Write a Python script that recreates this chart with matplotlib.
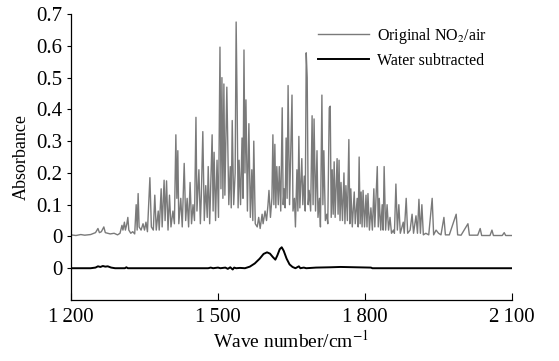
import matplotlib
matplotlib.use("Agg")
import matplotlib.pyplot as plt

# original NO2/air spectrum, (wave number, absorbance)
orig_wn = [
    1200, 1210, 1220, 1228, 1240, 1250, 1255, 1258, 1262, 1267, 1270, 1280, 1288, 1295,
    1300, 1304, 1306, 1309, 1311, 1314, 1316, 1318, 1322, 1326, 1330, 1333, 1335, 1337,
    1339, 1343, 1347, 1350, 1353, 1356, 1361, 1364, 1368, 1371, 1374, 1378, 1380, 1384,
    1386, 1390, 1392, 1395, 1398, 1401, 1404, 1408, 1411, 1414, 1416, 1418, 1420, 1424,
    1427, 1431, 1434, 1437, 1440, 1443, 1446, 1449, 1452, 1455, 1457, 1461, 1464, 1466,
    1469, 1472, 1475, 1478, 1480, 1483, 1488, 1490, 1492, 1495, 1498, 1501, 1504, 1506,
    1508, 1510, 1512, 1514, 1518, 1520, 1522, 1525, 1527, 1529, 1532, 1535, 1537, 1539,
    1541, 1543, 1546, 1549, 1551, 1553, 1555, 1557, 1560, 1563, 1566, 1569, 1571, 1573,
    1576, 1580, 1583, 1586, 1590, 1592, 1596, 1599, 1602, 1604, 1607, 1610, 1612, 1614,
    1616, 1618, 1620, 1623, 1625, 1628, 1631, 1633, 1635, 1637, 1639, 1641, 1643, 1646,
    1651, 1653, 1656, 1658, 1661, 1663, 1665, 1667, 1671, 1673, 1676, 1678, 1680, 1682,
    1684, 1686, 1689, 1692, 1694, 1696, 1699, 1702, 1704, 1707, 1709, 1712, 1714, 1716,
    1719, 1722, 1724, 1727, 1729, 1731, 1733, 1735, 1737, 1739, 1743, 1745, 1747, 1749,
    1751, 1754, 1757, 1759, 1761, 1764, 1767, 1769, 1771, 1774, 1778, 1780, 1784, 1786,
    1788, 1790, 1792, 1794, 1796, 1799, 1802, 1804, 1806, 1809, 1812, 1815, 1818, 1820,
    1825, 1827, 1829, 1832, 1835, 1837, 1839, 1842, 1845, 1848, 1851, 1854, 1858, 1860,
    1863, 1866, 1869, 1872, 1878, 1880, 1884, 1887, 1892, 1896, 1899, 1904, 1907, 1910,
    1913, 1916, 1919, 1924, 1930, 1937, 1940, 1945, 1950, 1955, 1961, 1964, 1972, 1986,
    1989, 1996, 2010, 2013, 2030, 2035, 2038, 2055, 2059, 2062, 2080, 2084, 2087, 2100,
]
orig_abs = [
    0.005, 0.003, 0.006, 0.004, 0.006, 0.012, 0.025, 0.012, 0.015, 0.030, 0.012, 0.008, 0.010, 0.005,
    0.010, 0.035, 0.020, 0.045, 0.020, 0.040, 0.060, 0.020, 0.010, 0.015, 0.008, 0.100, 0.020, 0.135,
    0.030, 0.020, 0.040, 0.020, 0.045, 0.015, 0.185, 0.030, 0.020, 0.130, 0.020, 0.080, 0.020, 0.150,
    0.030, 0.177, 0.050, 0.175, 0.020, 0.130, 0.030, 0.080, 0.040, 0.320, 0.120, 0.270, 0.040, 0.120,
    0.030, 0.230, 0.050, 0.120, 0.030, 0.170, 0.040, 0.100, 0.050, 0.375, 0.080, 0.210, 0.040, 0.130,
    0.330, 0.050, 0.160, 0.060, 0.220, 0.040, 0.320, 0.080, 0.265, 0.050, 0.240, 0.060, 0.596, 0.150,
    0.500, 0.120, 0.480, 0.130, 0.470, 0.290, 0.100, 0.220, 0.090, 0.365, 0.100, 0.200, 0.675, 0.420,
    0.090, 0.240, 0.100, 0.310, 0.120, 0.587, 0.200, 0.430, 0.080, 0.355, 0.060, 0.210, 0.050, 0.300,
    0.040, 0.030, 0.060, 0.025, 0.070, 0.040, 0.080, 0.050, 0.100, 0.145, 0.060, 0.120, 0.320, 0.100,
    0.290, 0.090, 0.220, 0.100, 0.220, 0.080, 0.405, 0.100, 0.150, 0.090, 0.310, 0.120, 0.475, 0.100,
    0.445, 0.080, 0.120, 0.030, 0.210, 0.080, 0.315, 0.090, 0.245, 0.100, 0.190, 0.080, 0.578, 0.500,
    0.100, 0.145, 0.080, 0.380, 0.100, 0.370, 0.080, 0.270, 0.060, 0.120, 0.030, 0.445, 0.100, 0.270,
    0.050, 0.070, 0.040, 0.405, 0.410, 0.060, 0.210, 0.070, 0.235, 0.060, 0.245, 0.070, 0.240, 0.050,
    0.170, 0.050, 0.200, 0.040, 0.160, 0.050, 0.305, 0.040, 0.150, 0.030, 0.140, 0.040, 0.120, 0.030,
    0.250, 0.040, 0.140, 0.030, 0.145, 0.030, 0.130, 0.030, 0.135, 0.020, 0.090, 0.020, 0.150, 0.030,
    0.220, 0.030, 0.120, 0.020, 0.100, 0.020, 0.220, 0.020, 0.100, 0.020, 0.060, 0.010, 0.020, 0.010,
    0.165, 0.020, 0.100, 0.010, 0.045, 0.010, 0.120, 0.010, 0.020, 0.070, 0.010, 0.065, 0.010, 0.117,
    0.010, 0.100, 0.005, 0.010, 0.005, 0.120, 0.005, 0.020, 0.010, 0.005, 0.060, 0.005, 0.005, 0.070,
    0.005, 0.004, 0.040, 0.004, 0.004, 0.025, 0.003, 0.003, 0.020, 0.003, 0.003, 0.012, 0.003, 0.003,
]

# water-subtracted spectrum (drawn shifted down by 0.1)
water_wn = [
    1200, 1240, 1250, 1255, 1260, 1265, 1270, 1275, 1282, 1290, 1310, 1313, 1316, 1330,
    1480, 1485, 1490, 1500, 1505, 1515, 1520, 1525, 1530, 1533, 1537, 1545, 1555, 1565,
    1575, 1585, 1593, 1600, 1606, 1612, 1617, 1621, 1626, 1630, 1634, 1640, 1646, 1652,
    1658, 1665, 1668, 1675, 1680, 1700, 1730, 1750, 1780, 1812, 1815, 2100,
]
water_abs = [
    0.0, 0.0, 0.002, 0.006, 0.004, 0.007, 0.005, 0.006, 0.002, 0.0, 0.0, 0.003, 0.0, 0.0,
    0.0, 0.002, 0.0, 0.002, 0.0, 0.002, -0.002, 0.003, -0.004, 0.002, 0.0, 0.001, 0.0, 0.005,
    0.015, 0.030, 0.045, 0.050, 0.046, 0.035, 0.027, 0.040, 0.060, 0.066, 0.055, 0.030, 0.012, 0.004,
    0.0, 0.006, 0.0, 0.002, 0.0, 0.002, 0.003, 0.004, 0.003, 0.002, 0.0, 0.0,
]
water_offset = -0.1

xticks = [1200, 1500, 1800, 2100]
xtick_labels = ["1\u2009200", "1\u2009500", "1\u2009800", "2\u2009100"]
yticks = [-0.1, 0, 0.1, 0.2, 0.3, 0.4, 0.5, 0.6, 0.7]
ytick_labels = ["0", "0", "0.1", "0.2", "0.3", "0.4", "0.5", "0.6", "0.7"]

plt.rcParams["font.family"] = ["Liberation Serif", "DejaVu Serif"]
plt.rcParams["mathtext.fontset"] = "stix"

fig = plt.figure(figsize=(5.59, 3.61), dpi=100)
ax = fig.add_axes([0.127, 0.169, 0.789, 0.792])

ax.plot(orig_wn, orig_abs, color="#7a7a7a", lw=1.0, label="Original NO$_2$/air")
ax.plot(water_wn, [v + water_offset for v in water_abs], color="black", lw=1.4,
        label="Water subtracted")

ax.set_xlim(1200, 2100)
ax.set_ylim(-0.2, 0.7)
ax.set_xticks(xticks)
ax.set_xticklabels(xtick_labels)
ax.set_yticks(yticks)
ax.set_yticklabels(ytick_labels)
ax.tick_params(axis="x", direction="in", length=5, width=0.8, labelsize=15, pad=6)
ax.tick_params(axis="y", direction="out", length=3, width=0.8, labelsize=15, pad=3)
for s in ["top", "right"]:
    ax.spines[s].set_visible(False)
for s in ["left", "bottom"]:
    ax.spines[s].set_linewidth(0.9)

ax.set_xlabel("Wave number/cm$^{-1}$", fontsize=14, labelpad=2)
ax.set_ylabel("Absorbance", fontsize=13, labelpad=5)

ax.legend(loc="upper left", bbox_to_anchor=(0.56, 0.96), frameon=False, fontsize=11.5,
          handlelength=3.2, handletextpad=0.5, labelspacing=0.45, borderpad=0,
          borderaxespad=0)

fig.savefig("out.png", dpi=100)
